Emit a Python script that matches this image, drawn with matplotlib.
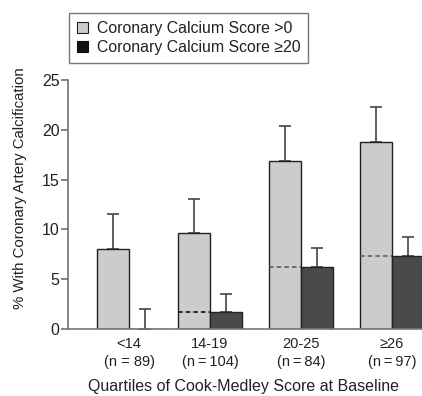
import numpy as np
import matplotlib.pyplot as plt
from matplotlib.patches import Patch

plt.rcParams['font.family'] = ['Liberation Sans', 'DejaVu Sans']

# data
groups = ["<14\n(n = 89)", "14-19\n(n\u2009=\u2009104)", "20-25\n(n\u2009=\u200984)", "\u226526\n(n\u2009=\u200997)"]
score_gt0 = [8.0, 9.6, 16.9, 18.8]
score_gt0_upper = [11.5, 13.1, 20.4, 22.3]
score_ge20 = [0.0, 1.7, 6.25, 7.3]
score_ge20_upper = [2.0, 3.5, 8.1, 9.2]

# group positions (first group sits a bit closer in the original)
pos = np.array([0.0, 0.89, 1.89, 2.89])
w = 0.355

TXT = "#222222"
fig = plt.figure(figsize=(4.22, 3.96), dpi=100)
ax = fig.add_axes([68 / 422, 1 - 329 / 396, 1 - 68 / 422, (329 - 80) / 396])

v1 = np.array(score_gt0)
v2 = np.array(score_ge20)
e1 = np.array(score_gt0_upper) - v1
e2 = np.array(score_ge20_upper) - v2

ax.bar(pos - w / 2, v1, w, color="#cccccc", edgecolor="#222222", linewidth=1.0, zorder=2)
ax.bar(pos + w / 2, v2, w, color="#4a4a4a", edgecolor="#222222", linewidth=1.0, zorder=2)

ax.errorbar(pos - w / 2, v1, yerr=[np.zeros(4), e1], fmt="none", ecolor="#444444",
            elinewidth=1.2, capsize=4.5, capthick=1.2, zorder=1)
ax.errorbar(pos + w / 2, v2, yerr=[np.zeros(4), e2], fmt="none", ecolor="#444444",
            elinewidth=1.2, capsize=4.5, capthick=1.2, zorder=1)

# dashed reference lines across the grey bar at the height of the dark bar
dash_cols = ["k", "k", "#555555", "#555555"]
for p, h, c in zip(pos, v2, dash_cols):
    if h > 0:
        ax.hlines(h, p - w, p, colors=c, linestyles=(0, (3, 2)), linewidth=1.1, zorder=3)

ax.set_xlim((68 - 129) / 91, (422 - 129) / 91)
ax.set_ylim(0, 25)
ax.set_yticks([0, 5, 10, 15, 20, 25])
ax.set_xticks(pos)
ax.set_xticklabels(groups, linespacing=1.3)

for s in ["top", "right"]:
    ax.spines[s].set_visible(False)
ax.spines["left"].set_color("#666666")
ax.spines["bottom"].set_color("#777777")
ax.spines["left"].set_linewidth(1.1)
ax.spines["bottom"].set_linewidth(1.2)
ax.tick_params(axis="y", direction="out", length=5, width=1.1, color="#666666",
               labelsize=11.5, labelcolor=TXT, pad=1)
ax.tick_params(axis="x", length=0, labelsize=10.5, labelcolor=TXT, pad=6)

fig.text(20 / 422, 1 - 188 / 396, "% With Coronary Artery Calcification", rotation=90,
         ha="center", va="center", fontsize=10.8, color=TXT)
fig.text(244 / 422, 1 - 386 / 396, "Quartiles of Cook-Medley Score at Baseline",
         ha="center", va="center", fontsize=11.5, color=TXT)

handles = [Patch(facecolor="#cccccc", edgecolor="#222222", linewidth=0.8),
           Patch(facecolor="#111111", edgecolor="#111111", linewidth=0.8)]
leg = fig.legend(handles, ["Coronary Calcium Score >0", "Coronary Calcium Score \u226520"],
                 loc="upper left", bbox_to_anchor=(69 / 422, 1 - 12.7 / 396),
                 frameon=True, fancybox=False, fontsize=11.4, handlelength=0.7,
                 handleheight=0.7, handletextpad=0.55, borderpad=0.5, labelspacing=0.3,
                 borderaxespad=0)
leg.get_frame().set_edgecolor("#555555")
leg.get_frame().set_linewidth(1.0)
for t in leg.get_texts():
    t.set_color(TXT)

fig.savefig("out.png", dpi=100)
